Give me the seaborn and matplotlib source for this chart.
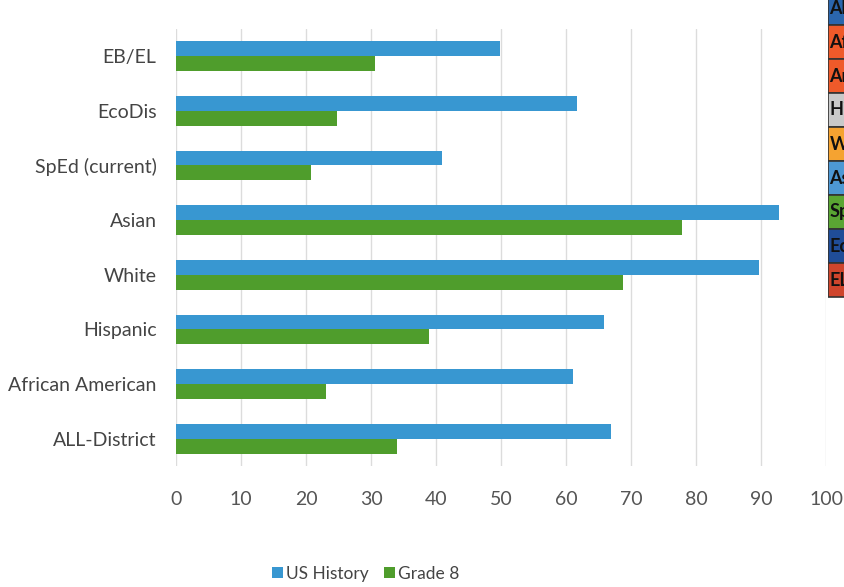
import pandas as pd
import matplotlib
matplotlib.use("Agg")
import matplotlib.pyplot as plt
import seaborn as sns
from matplotlib.patches import Rectangle

categories = ["EB/EL", "EcoDis", "SpEd (current)", "Asian", "White",
              "Hispanic", "African American", "ALL-District"]
us_history = [49.8, 61.7, 40.9, 92.8, 89.7, 65.8, 61.1, 66.9]
grade_8 = [30.6, 24.8, 20.8, 77.8, 68.8, 38.9, 23.1, 34.0]
x_ticks = [0, 10, 20, 30, 40, 50, 60, 70, 80, 90, 100]

# cropped legend of another chart at the right edge
side_labels = ["All", "African American", "American Indian", "Hispanic", "White",
               "Asian", "SpEd", "EcoDis", "ELL"]
side_colors = ["#2b66ad", "#ef5a2a", "#ef5a2a", "#c9c9c9", "#f5a331",
               "#4d98d4", "#5aa533", "#204d98", "#cf452c"]

df = pd.concat([
    pd.DataFrame({"group": categories, "value": us_history, "series": "US History"}),
    pd.DataFrame({"group": categories, "value": grade_8, "series": "Grade 8"}),
])

sns.set_theme(style="white")
plt.rcParams["font.family"] = ["Lato", "DejaVu Sans"]

fig = plt.figure(figsize=(8.45, 5.87), dpi=100)
ax = fig.add_axes([0.2083, 0.206, 0.7692, 0.745])

sns.barplot(data=df, y="group", x="value", hue="series", orient="h",
            palette={"US History": "#3897d1", "Grade 8": "#4f9d2c"},
            width=0.54, saturation=1, linewidth=0, ax=ax, legend=True)

ax.set_xlim(0, 100)
ax.set_ylim(len(categories) - 0.5, -0.5)
ax.set_xticks(x_ticks)
ax.set_xticklabels([str(t) for t in x_ticks])
ax.xaxis.grid(True, color="#dcdcdc", linewidth=1)
ax.set_axisbelow(True)
ax.set_xlabel("")
ax.set_ylabel("")
for s in ax.spines.values():
    s.set_visible(False)
ax.tick_params(axis="x", labelsize=14, colors="#555555", length=0, pad=18)
ax.tick_params(axis="y", labelsize=14, colors="#444444", length=0, pad=14)

handles, labels = ax.get_legend_handles_labels()
ax.get_legend().remove()
fig.legend(handles, labels, loc="center", bbox_to_anchor=(0.433, 0.022),
           ncol=2, frameon=False, fontsize=12.5, handlelength=0.6,
           handleheight=0.6, handletextpad=0.2, columnspacing=0.9,
           labelcolor="#444444")

# partial legend boxes cut by the right edge, clipped inside a thin axes
side = fig.add_axes([828 / 845, 0, 17 / 845, 1])
side.set_axis_off()
side.set_xlim(0, 17)
side.set_ylim(587, 0)
row_h = 34
for i, (lab, col) in enumerate(zip(side_labels, side_colors)):
    y0 = -9 + i * row_h
    side.add_patch(Rectangle((0, y0), 40, row_h, facecolor=col,
                             edgecolor="#333333", linewidth=1.2, clip_on=True))
    side.text(1.5, y0 + row_h / 2, lab, fontsize=13, color="#111111", fontweight="bold",
              va="center", ha="left", clip_on=True)

fig.savefig("out.png", dpi=100)
